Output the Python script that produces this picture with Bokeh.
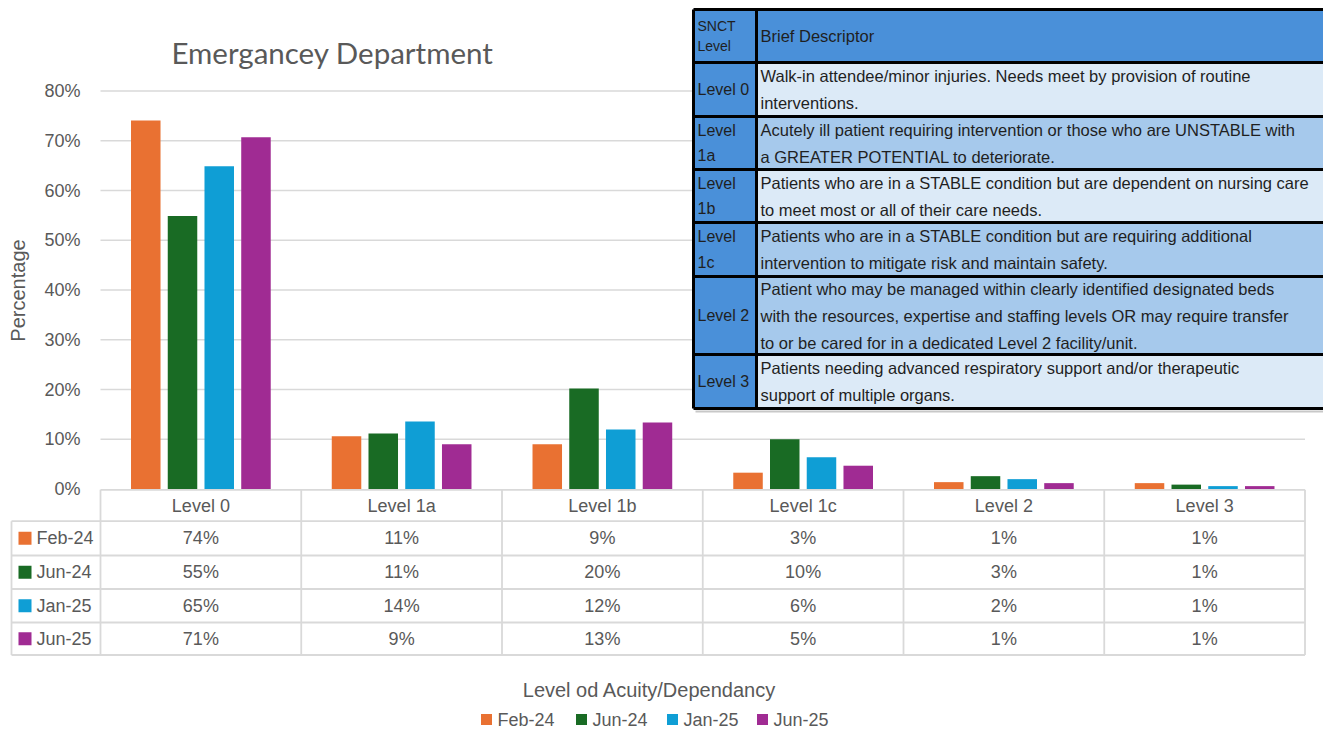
import math
from bokeh.plotting import figure
from bokeh.models import Range1d, ColumnDataSource
from bokeh.core.properties import value
from bokeh.embed import file_html
from bokeh.resources import INLINE

# ---------------- data ----------------
levels = ["Level 0", "Level 1a", "Level 1b", "Level 1c", "Level 2", "Level 3"]
series = ["Feb-24", "Jun-24", "Jan-25", "Jun-25"]
colors = ["#E97132", "#196B24", "#0F9ED5", "#A02B93"]
feb24 = [74.1, 10.6, 9.0, 3.3, 1.4, 1.2]
jun24 = [54.9, 11.2, 20.2, 10.0, 2.6, 0.9]
jan25 = [64.9, 13.6, 12.0, 6.4, 2.0, 0.6]
jun25 = [70.7, 9.0, 13.4, 4.7, 1.2, 0.6]
values = [feb24, jun24, jan25, jun25]
y_ticks = [0, 10, 20, 30, 40, 50, 60, 70, 80]

title = "Emergancey Department"
y_title = "Percentage"
x_title = "Level od Acuity/Dependancy"

desc_levels = ["SNCT\nLevel", "Level 0", "Level\n1a", "Level\n1b", "Level\n1c", "Level 2", "Level 3"]
desc_texts = [
    "Brief Descriptor",
    "Walk-in attendee/minor injuries. Needs meet by provision of routine\ninterventions.",
    "Acutely ill patient requiring intervention or those who are UNSTABLE with\na GREATER POTENTIAL to deteriorate.",
    "Patients who are in a STABLE condition but are dependent on nursing care\nto meet most or all of their care needs.",
    "Patients who are in a STABLE condition but are requiring additional\nintervention to mitigate risk and maintain safety.",
    "Patient who may be managed within clearly identified designated beds\nwith the resources, expertise and staffing levels OR may require transfer\nto or be cared for in a dedicated Level 2 facility/unit.",
    "Patients needing advanced respiratory support and/or therapeutic\nsupport of multiple organs.",
]

# ---------------- layout ----------------
W, H = 1323, 731
GRAY = "#595959"
GRID = "#D9D9D9"
FONT = "Liberation Sans"

# category axis: x = 100 + u * 200.75 ; percent axis: y = 488.6 - v * 4.975
CAT_X0, CAT_W = 100.0, 200.75
PCT_Y0, PCT_K = 488.6, 4.975

p = figure(width=W, height=H, output_backend="svg", toolbar_location=None,
           x_range=Range1d(-CAT_X0 / CAT_W, (W - CAT_X0) / CAT_W),
           y_range=Range1d((PCT_Y0 - H) / PCT_K, PCT_Y0 / PCT_K),
           x_axis_location=None, y_axis_location=None,
           min_border=0, outline_line_color=None, background_fill_color="white")
p.grid.visible = False
p.extra_x_ranges = {"px": Range1d(0, W)}
p.extra_y_ranges = {"px": Range1d(H, 0)}

n = len(levels)

# gridlines
gl = [t for t in y_ticks if t > 0]
p.segment(x0=[0] * len(gl), x1=[n] * len(gl), y0=gl, y1=gl, line_color=GRID, line_width=1.5)

# y tick labels
p.text(x=[80] * len(y_ticks), y=y_ticks, text=[f"{t}%" for t in y_ticks],
       x_range_name="px", text_align="right", text_baseline="middle",
       text_font=value(FONT), text_font_size="18px", text_color=GRAY)

# bars
bar_w = 0.147
step = 0.183
for j, (name, vals) in enumerate(zip(series, values)):
    off = (j - (len(series) - 1) / 2) * step
    src = ColumnDataSource(dict(x=[i + 0.5 + off for i in range(n)], top=vals))
    p.vbar(x="x", top="top", bottom=0, width=bar_w, source=src,
           fill_color=colors[j], line_color=None)

# title & axis titles
p.text(x=[332], y=[52], text=[title], x_range_name="px", y_range_name="px",
       text_align="center", text_baseline="middle", text_font=value("Lato"),
       text_font_size="29.5px", text_color=GRAY)
p.text(x=[17], y=[290], text=[y_title], x_range_name="px", y_range_name="px",
       angle=math.pi / 2, text_align="center", text_baseline="middle",
       text_font=value(FONT), text_font_size="20px", text_color=GRAY)
p.text(x=[649], y=[689], text=[x_title], x_range_name="px", y_range_name="px",
       text_align="center", text_baseline="middle",
       text_font=value(FONT), text_font_size="20px", text_color=GRAY)

# ---------------- data table ----------------
row_b = [489.3, 520.7, 555.0, 588.5, 622.0, 654.5]
TBL_LEFT = 11
tbl_right = CAT_X0 + n * CAT_W
p.segment(x0=list(range(n + 1)), x1=list(range(n + 1)), y0=[row_b[0]] * (n + 1),
          y1=[row_b[-1]] * (n + 1), y_range_name="px", line_color=GRID, line_width=1.8)
p.segment(x0=[0], x1=[n], y0=[row_b[0]], y1=[row_b[0]], y_range_name="px",
          line_color=GRID, line_width=1.8)
hl = row_b[1:]
p.segment(x0=[TBL_LEFT] * len(hl), x1=[tbl_right] * len(hl), y0=hl, y1=hl,
          x_range_name="px", y_range_name="px", line_color=GRID, line_width=1.8)
p.segment(x0=[TBL_LEFT], x1=[TBL_LEFT], y0=[row_b[1]], y1=[row_b[-1]],
          x_range_name="px", y_range_name="px", line_color=GRID, line_width=1.8)

row_c = [(row_b[k] + row_b[k + 1]) / 2 for k in range(len(row_b) - 1)]
p.text(x=[i + 0.5 for i in range(n)], y=[row_c[0]] * n, text=levels, y_range_name="px",
       text_align="center", text_baseline="middle", text_font=value(FONT),
       text_font_size="18px", text_color=GRAY)
for j, (name, vals) in enumerate(zip(series, values)):
    yc = row_c[j + 1]
    p.text(x=[i + 0.5 for i in range(n)], y=[yc] * n,
           text=[f"{round(v)}%" for v in vals], y_range_name="px",
           text_align="center", text_baseline="middle", text_font=value(FONT),
           text_font_size="18px", text_color=GRAY)
    p.scatter(x=[24.5], y=[yc], marker="square", size=13, x_range_name="px",
              y_range_name="px", fill_color=colors[j], line_color=None)
    p.text(x=[36], y=[yc], text=[name], x_range_name="px", y_range_name="px",
           text_align="left", text_baseline="middle", text_font=value(FONT),
           text_font_size="18px", text_color=GRAY)

# ---------------- legend ----------------
leg_x = [486, 581, 672, 762]
LEG_Y = 719
for j, name in enumerate(series):
    p.scatter(x=[leg_x[j]], y=[LEG_Y], marker="square", size=11, x_range_name="px",
              y_range_name="px", fill_color=colors[j], line_color=None)
    p.text(x=[leg_x[j] + 11], y=[LEG_Y], text=[name], x_range_name="px", y_range_name="px",
           text_align="left", text_baseline="middle", text_font=value(FONT),
           text_font_size="18px", text_color=GRAY)

# ---------------- descriptor table ----------------
DX0, DX1, DX2 = 693, 756, W
d_rows = [9, 62, 116, 169, 222, 276, 354, 408]
BLUE = "#4A90D9"
LIGHT = "#DCEAF7"
MID = "#A6C9EC"
desc_fill = [BLUE, LIGHT, MID, LIGHT, MID, MID, LIGHT]
nr = len(d_rows) - 1
p.segment(x0=[DX0 + 2], x1=[DX2], y0=[d_rows[-1] + 3], y1=[d_rows[-1] + 3],
          x_range_name="px", y_range_name="px", line_color="#C8C8C8", line_width=2)
p.quad(left=[DX0] * nr, right=[DX1] * nr, top=d_rows[:-1], bottom=d_rows[1:],
       x_range_name="px", y_range_name="px", fill_color=BLUE, line_color=None)
p.quad(left=[DX1] * nr, right=[DX2] * nr, top=d_rows[:-1], bottom=d_rows[1:],
       x_range_name="px", y_range_name="px", fill_color=desc_fill, line_color=None)
p.segment(x0=[DX0] * len(d_rows), x1=[DX2] * len(d_rows), y0=d_rows, y1=d_rows,
          x_range_name="px", y_range_name="px", line_color="black", line_width=3)
p.segment(x0=[DX0, DX1], x1=[DX0, DX1], y0=[d_rows[0]] * 2, y1=[d_rows[-1]] * 2,
          x_range_name="px", y_range_name="px", line_color="black", line_width=3)
d_c = [(d_rows[k] + d_rows[k + 1]) / 2 for k in range(nr)]
p.text(x=[697], y=[d_c[0]], text=[desc_levels[0]], x_range_name="px", y_range_name="px",
       text_align="left", text_baseline="middle", text_font=value(FONT),
       text_font_size="14px", text_line_height=1.3, text_color="#1F1F1F")
p.text(x=[697] * (nr - 1), y=d_c[1:], text=desc_levels[1:], x_range_name="px",
       y_range_name="px", text_align="left", text_baseline="middle",
       text_font=value(FONT), text_font_size="16px", text_line_height=1.5,
       text_color="#1F1F1F")
p.text(x=[760] * nr, y=d_c, text=desc_texts, x_range_name="px", y_range_name="px",
       text_align="left", text_baseline="middle", text_font=value(FONT),
       text_font_size="16.5px", text_line_height=1.5, text_color="#1F1F1F")

open("out.html", "w").write(file_html(p, INLINE))
